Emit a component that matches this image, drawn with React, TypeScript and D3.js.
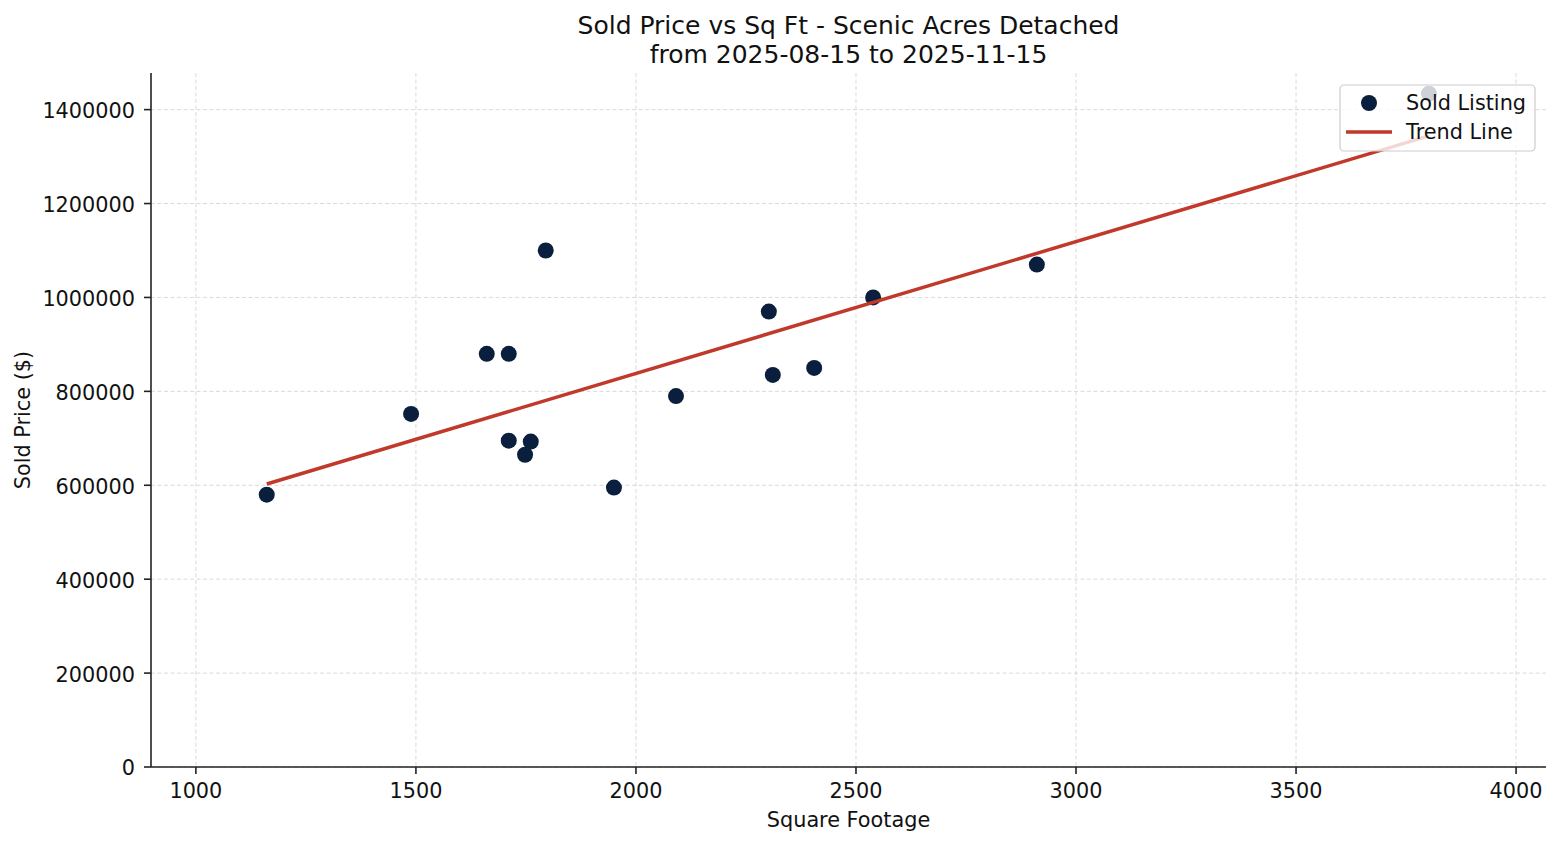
import * as d3 from 'd3';

const title = ['Sold Price vs Sq Ft - Scenic Acres Detached', 'from 2025-08-15 to 2025-11-15'];

// Sold listings
const sqft = [1161, 1489, 1661, 1711, 1711, 1761, 1748, 1795, 1950, 2091, 2302, 2311, 2405, 2539, 2911, 3802];
const price = [580000, 752000, 880000, 880000, 695000, 693000, 665000, 1100000, 595000, 790000, 970000, 835000, 850000, 1000000, 1070000, 1434000];

// fitted trend line end points
const trendX = [1161, 3802];
const trendY = [602600, 1344100];

const xTicks = [1000, 1500, 2000, 2500, 3000, 3500, 4000];
const yTicks = [0, 200000, 400000, 600000, 800000, 1000000, 1200000, 1400000];

const W = 1560;
const H = 845;
const m = { left: 151, right: 1546, top: 73, bottom: 767 };
const FONT = 'DejaVu Sans, sans-serif';
const FS = 20.8;
const DOT = '#0a1f3d';
const RED = '#c0392b';

export default function App() {
  const x = d3.scaleLinear().domain([898, 4068]).range([m.left, m.right]);
  const y = d3.scaleLinear().domain([0, 1478000]).range([m.bottom, m.top]);

  const points = sqft.map((s, i) => ({ s, p: price[i] }));
  const trend = d3
    .line<number>()
    .x((d) => x(d))
    .y((_, i) => y(trendY[i]));

  // legend box
  const lg = { x: 1340, y: 85, w: 195, h: 66 };

  return (
    <svg
      width={W}
      height={H}
      style={{ position: 'absolute', left: 0, top: 0, background: '#fff' }}
      fontFamily={FONT}
    >
      <rect width={W} height={H} fill="#fff" />

      {/* grid */}
      <g stroke="#d0d0d0" strokeWidth={0.8} strokeDasharray="4,2.5">
        {xTicks.map((t) => (
          <line key={'gx' + t} x1={x(t)} x2={x(t)} y1={m.top} y2={m.bottom} />
        ))}
        {yTicks.map((t) => (
          <line key={'gy' + t} x1={m.left} x2={m.right} y1={y(t)} y2={y(t)} />
        ))}
      </g>

      {/* scatter */}
      <g fill={DOT}>
        {points.map((d, i) => (
          <circle key={i} cx={x(d.s)} cy={y(d.p)} r={8} />
        ))}
      </g>

      {/* trend */}
      <path d={trend(trendX) ?? ''} fill="none" stroke={RED} strokeWidth={3.5} />

      {/* spines */}
      <g stroke="#222" strokeWidth={1.6}>
        <line x1={m.left} x2={m.left} y1={m.top} y2={m.bottom} />
        <line x1={m.left} x2={m.right} y1={m.bottom} y2={m.bottom} />
      </g>

      {/* x ticks */}
      <g fontSize={FS} fill="#111" textAnchor="middle">
        {xTicks.map((t) => (
          <g key={'xt' + t}>
            <line x1={x(t)} x2={x(t)} y1={m.bottom} y2={m.bottom + 7} stroke="#222" strokeWidth={1.6} />
            <text x={x(t)} y={798}>
              {t}
            </text>
          </g>
        ))}
      </g>

      {/* y ticks */}
      <g fontSize={FS} fill="#111" textAnchor="end">
        {yTicks.map((t) => (
          <g key={'yt' + t}>
            <line x1={m.left - 7} x2={m.left} y1={y(t)} y2={y(t)} stroke="#222" strokeWidth={1.6} />
            <text x={135} y={y(t) + 1} dy="0.36em">
              {t}
            </text>
          </g>
        ))}
      </g>

      {/* axis labels */}
      <text x={(m.left + m.right) / 2} y={827} fontSize={FS} textAnchor="middle" fill="#111">
        Square Footage
      </text>
      <text
        transform={`translate(30,${(m.top + m.bottom) / 2}) rotate(-90)`}
        fontSize={FS}
        textAnchor="middle"
        fill="#111"
      >
        Sold Price ($)
      </text>

      {/* title */}
      <g fontSize={25} textAnchor="middle" fill="#111">
        <text x={(m.left + m.right) / 2} y={34}>
          {title[0]}
        </text>
        <text x={(m.left + m.right) / 2} y={62.5}>
          {title[1]}
        </text>
      </g>

      {/* legend */}
      <g>
        <rect
          x={lg.x}
          y={lg.y}
          width={lg.w}
          height={lg.h}
          rx={4}
          fill="#fff"
          fillOpacity={0.8}
          stroke="#cccccc"
          strokeWidth={1.2}
        />
        <circle cx={1369} cy={103} r={8} fill={DOT} />
        <line x1={1346} x2={1392} y1={132} y2={132} stroke={RED} strokeWidth={3.5} />
        <text x={1406} y={109.5} fontSize={FS} fill="#111">
          Sold Listing
        </text>
        <text x={1406} y={139} fontSize={FS} fill="#111">
          Trend Line
        </text>
      </g>
    </svg>
  );
}
